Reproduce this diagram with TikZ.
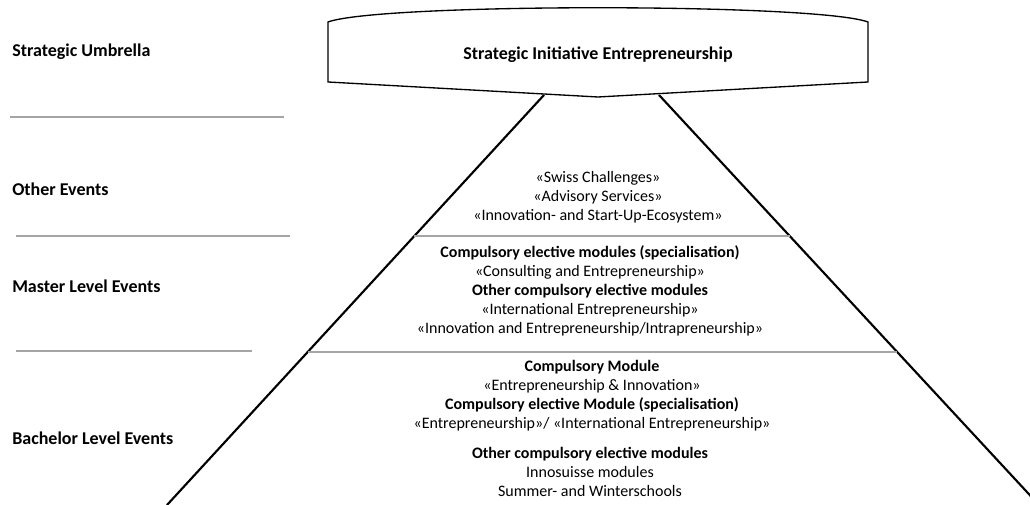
\documentclass[tikz,border=0pt]{standalone}
\usepackage{fontspec}
\setmainfont{Carlito}
\usetikzlibrary{positioning, calc}
\definecolor{sepgray}{RGB}{165,165,165}
\tikzset{
rowname/.style={anchor=west, inner sep=0pt, font=\bfseries\fontsize{13.5}{16}\selectfont}, % names of the rows on the left
bannertext/.style={inner sep=0pt, font=\bfseries\fontsize{13.5}{16}\selectfont}, % text in the banner
pyrtext/.style={align=center, inner sep=0pt, font=\fontsize{12}{14.25}\selectfont}, % texts inside the pyramid
divider/.style={draw=sepgray, line width=1.1pt}, % thin gray rules between the rows
edgeline/.style={line width=1.6pt}, % the two sides of the pyramid
}

\begin{document}
\begin{tikzpicture}[x=0.75pt, y=-0.75pt]
        \useasboundingbox (0,0) rectangle (1030,505);
        % row names
        \node[rowname] (umbrella) at (12,52) {Strategic Umbrella};
        \node[rowname] (other) at (12,189) {Other Events};
        \node[rowname] (master) at (12,286) {Master Level Events};
        \node[rowname] (bachelor) at (12,438) {Bachelor Level Events};
        \draw[divider] (10,117) -- (284,117);
        \draw[divider] (16,236) -- (290,236);
        \draw[divider] (16,351) -- (252,351);
        % pyramid
        \coordinate (ltop) at (544,95);
        \coordinate (lbot) at (167,505);
        \coordinate (rtop) at (659,95);
        \coordinate (rbot) at (1039,505);
        \draw[edgeline] (ltop) -- (lbot);
        \draw[edgeline] (rtop) -- (rbot);
        \draw[divider] ($(ltop)!0.344!(lbot)$) -- ($(rtop)!0.344!(rbot)$);
        \draw[divider] ($(ltop)!0.627!(lbot)$) -- ($(rtop)!0.627!(rbot)$);
        % banner
        \draw[line width=1pt, fill=white] (328,22) .. controls (380,3) and (816,3) .. (868,22)
        -- (868,82) -- (598,97) -- (328,82) -- cycle;
        \node[bannertext] (sie) at (598,55) {Strategic Initiative Entrepreneurship};
        % texts
        \node[pyrtext] (events) at (598,197) {«Swiss Challenges»\\«Advisory Services»\\«Innovation- and Start-Up-Ecosystem»};
        \node[pyrtext] (mastermods) at (590,291) {\textbf{Compulsory elective modules (specialisation)}\\«Consulting and Entrepreneurship»\\\textbf{Other compulsory elective modules}\\«International Entrepreneurship»\\«Innovation and Entrepreneurship/Intrapreneurship»};
        \node[pyrtext] (bachelormods) at (592,396) {\textbf{Compulsory Module}\\«Entrepreneurship \& Innovation»\\\textbf{Compulsory elective Module (specialisation)}\\«Entrepreneurship»/ «International Entrepreneurship»};
        \node[pyrtext] (othermods) at (590,472) {\textbf{Other compulsory elective modules}\\Innosuisse modules\\Summer- and Winterschools};
\end{tikzpicture}
\end{document}
